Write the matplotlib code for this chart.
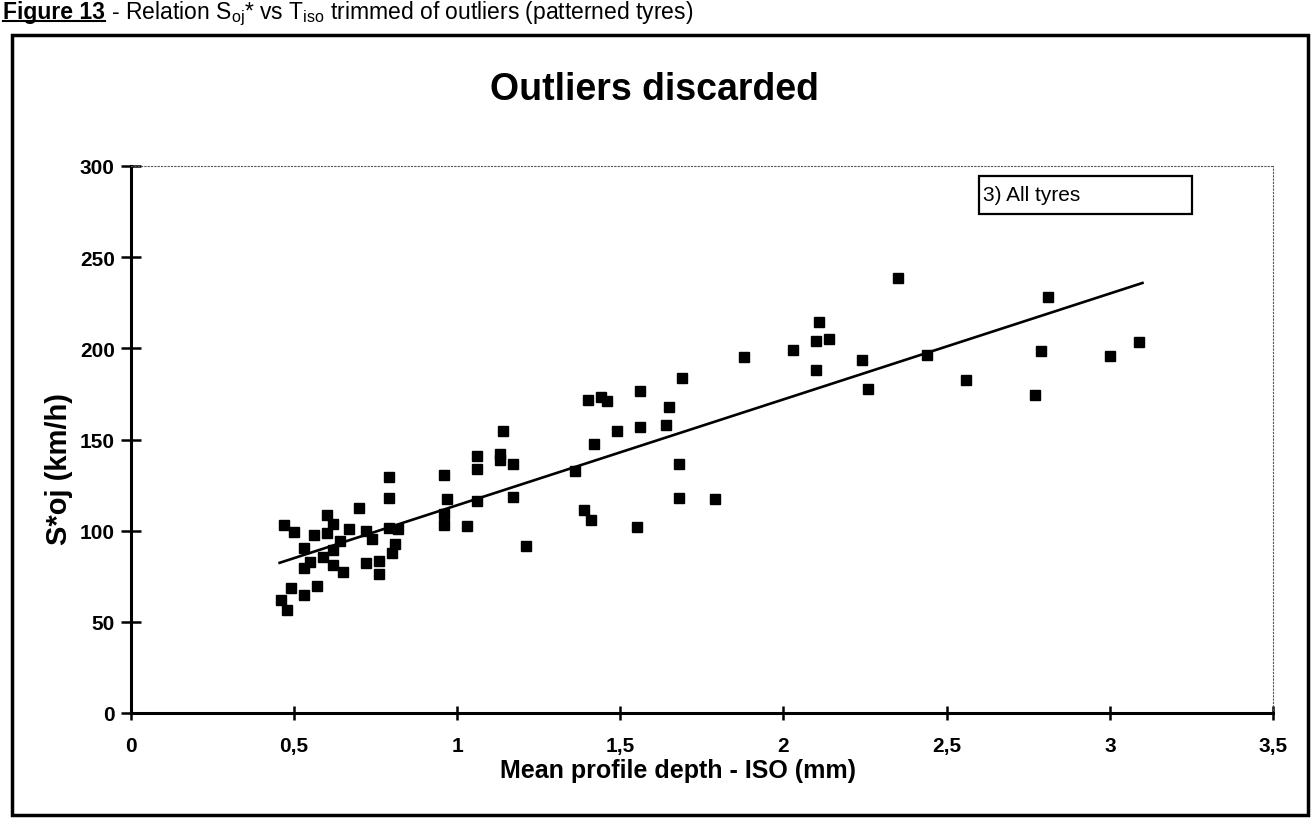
import matplotlib
matplotlib.use("Agg")
import matplotlib.pyplot as plt
import numpy as np
from matplotlib.patches import Rectangle
from matplotlib.lines import Line2D

plt.rcParams["font.family"] = ["Liberation Sans", "DejaVu Sans"]
plt.rcParams["mathtext.default"] = "regular"

# mean profile depth ISO (mm) vs S*oj (km/h)
depth_iso = [
    0.70, 0.47, 0.50, 0.60, 0.62, 0.67, 0.56, 0.60, 0.64, 0.72, 0.74, 0.79,
    0.82, 0.81, 0.80, 0.53, 0.55, 0.53, 0.59, 0.62, 0.65, 0.72, 0.76, 0.76,
    0.49, 0.53, 0.57, 0.46, 0.48, 0.96, 1.03, 1.21, 0.96, 0.62,
    1.14, 1.06, 1.13, 1.13, 1.06, 1.17, 0.79, 0.96, 0.79, 0.97, 1.06, 1.17,
    1.56, 1.40, 1.44, 1.46, 1.65, 1.49, 1.56, 1.64, 1.42, 1.36, 1.68, 1.68,
    1.79, 1.39, 1.41, 1.55,
    1.69, 1.88, 2.03,
    2.35, 2.11, 2.10, 2.14, 2.24, 2.10, 2.26, 2.44, 2.56, 2.81, 2.79, 2.77,
    3.00, 3.09,
]
speed_soj = [
    112.5, 103.1, 99.2, 108.4, 103.9, 101.1, 97.5, 98.5, 94.6, 99.9, 95.5, 101.4,
    100.8, 92.6, 87.7, 90.4, 82.7, 79.5, 85.4, 80.9, 77.1, 82.4, 83.4, 76.3,
    68.6, 64.7, 69.6, 62.1, 56.6, 103.3, 102.6, 91.8, 109.3, 89.2,
    154.4, 140.9, 142.0, 139.0, 133.7, 136.3, 129.3, 130.6, 117.8, 117.5, 116.2, 118.2,
    176.6, 171.4, 173.5, 171.3, 167.6, 154.8, 156.8, 157.8, 147.8, 132.6, 136.4, 117.7,
    117.5, 111.2, 105.7, 102.1,
    184.0, 195.0, 199.0,
    238.5, 214.3, 203.9, 205.0, 193.8, 188.1, 177.9, 196.2, 182.8, 228.3, 198.7, 174.2,
    195.6, 203.6,
]

# straight trend line as drawn in the original
fit_slope = 58.05
fit_intercept = 55.9
fit_range = [0.456, 3.10]

x_ticks = [0, 0.5, 1, 1.5, 2, 2.5, 3, 3.5]
x_tick_labels = ["0", "0,5", "1", "1,5", "2", "2,5", "3", "3,5"]
y_ticks = [0, 50, 100, 150, 200, 250, 300]

W, H = 1316, 820
fig = plt.figure(figsize=(W / 100, H / 100), dpi=100)
ax = fig.add_axes([130.8 / W, 106 / H, 1142.2 / W, 547 / H])

ax.plot(depth_iso, speed_soj, ls="none", marker="s", ms=7, color="black")
fx = np.array(fit_range)
ax.plot(fx, fit_slope * fx + fit_intercept, color="black", lw=1.9)

ax.set_xlim(0, 3.5)
ax.set_ylim(0, 300)
ax.set_xticks(x_ticks)
ax.set_xticklabels(x_tick_labels)
ax.set_yticks(y_ticks)
ax.tick_params(axis="x", direction="inout", length=9.5, width=1.8, pad=12,
               labelsize=15)
ax.tick_params(axis="y", direction="inout", length=15, width=1.8, pad=4,
               labelsize=15)
for lab in ax.get_xticklabels() + ax.get_yticklabels():
    lab.set_fontweight("bold")

for side in ("left", "bottom"):
    ax.spines[side].set_linewidth(2.2)
for side in ("top", "right"):
    ax.spines[side].set_linestyle((0, (1, 2)))
    ax.spines[side].set_linewidth(0.8)
    ax.spines[side].set_color("#555555")

ax.set_xlabel("Mean profile depth - ISO (mm)", fontsize=18, fontweight="bold")
ax.xaxis.set_label_coords(0.479, -0.104)
ax.xaxis.label.set_va("center")
ax.set_ylabel("S*oj (km/h)", fontsize=21, fontweight="bold")
ax.yaxis.set_label_coords(-0.063, 0.448)
ax.yaxis.label.set_va("center")

# legend-like label box
ax.add_patch(Rectangle((0.743, 0.913), 0.186, 0.069, transform=ax.transAxes,
                       facecolor="white", edgecolor="black", lw=1.6, zorder=5))
ax.text(0.746, 0.948, "3) All tyres", transform=ax.transAxes, fontsize=15,
        va="center", ha="left", zorder=6)

fig.text(654 / W, 1 - 90 / H, "Outliers discarded", fontsize=27,
         fontweight="bold", ha="center", va="center")

# frame round the chart
fig.add_artist(Rectangle((12 / W, 4 / H), 1296 / W, 780 / H,
                         transform=fig.transFigure, fill=False, lw=2.5,
                         edgecolor="black"))

# caption above the frame, top slightly cut as in the scan
base_y = 1 - 19 / H
t1 = fig.text(3 / W, base_y, "Figure 13", fontsize=16.5, fontweight="bold",
              va="baseline", ha="left")
fig.canvas.draw()
bb = t1.get_window_extent(fig.canvas.get_renderer())
fig.text(bb.x1 / W, base_y,
         r" - Relation S$_{oj}$* vs T$_{iso}$ trimmed of outliers (patterned tyres)",
         fontsize=16.5, va="baseline", ha="left")
ul_y = base_y - 3 / H
fig.add_artist(Line2D([bb.x0 / W, bb.x1 / W], [ul_y, ul_y],
                      transform=fig.transFigure, color="black", lw=1.5))

fig.savefig("out.png", dpi=100)
